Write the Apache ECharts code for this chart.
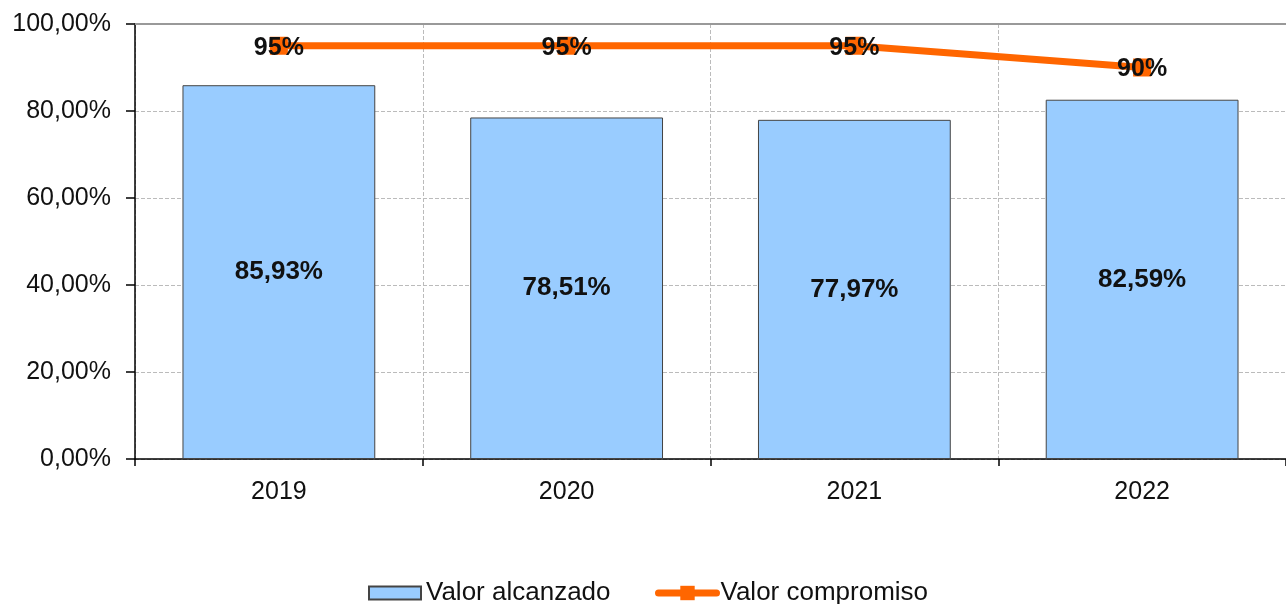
<!DOCTYPE html>
<html>
<head>
<meta charset="utf-8">
<script src="https://cdn.jsdelivr.net/npm/echarts@6/dist/echarts.min.js"></script>
<style>
html,body{margin:0;padding:0;background:#fff;}
#chart{width:1286px;height:604px;}
</style>
</head>
<body>
<div id="chart"></div>
<script>
var categories = ['2019', '2020', '2021', '2022'];
var valorAlcanzado = [85.93, 78.51, 77.97, 82.59];
var valorCompromiso = [95, 95, 95, 90];
var yTicks = [0, 20, 40, 60, 80, 100];

var FONT = '"Liberation Sans", Arial, sans-serif';
function fmtNum(v) { return v.toFixed(2).replace('.', ','); }

var chart = echarts.init(document.getElementById('chart'));
chart.setOption({
  animation: false,
  backgroundColor: '#fff',
  textStyle: { fontFamily: FONT },
  grid: { left: 135, right: -1, top: 24, bottom: 145, containLabel: false },
  legend: [{
    top: 580,
    left: 368,
    padding: 0,
    itemGap: 0,
    itemWidth: 52,
    itemHeight: 13,
    textStyle: { fontFamily: FONT, fontSize: 26, color: '#111', padding: [0, 0, 0, 0] },
    data: [{ name: 'Valor alcanzado', icon: 'rect' }]
  }, {
    top: 580,
    left: 655,
    padding: 0,
    itemGap: 0,
    itemWidth: 58,
    itemHeight: 18,
    lineStyle: { width: 7, cap: 'round' },
    textStyle: { fontFamily: FONT, fontSize: 26, color: '#111', padding: [0, 0, 0, -1] },
    data: [{ name: 'Valor compromiso' }]
  }],
  xAxis: [{
    type: 'category',
    data: categories,
    boundaryGap: true,
    axisLine: { lineStyle: { color: '#000', width: 1.5 } },
    axisTick: { show: true, alignWithLabel: false, length: 7, lineStyle: { color: '#000', width: 1.5 } },
    axisLabel: { fontFamily: FONT, fontSize: 25, color: '#111', margin: 21 },
    splitLine: { show: true, lineStyle: { color: '#bbb', type: 'dashed', width: 1 } }
  }, {
    type: 'category',
    data: categories,
    position: 'top',
    axisLine: { show: true, lineStyle: { color: '#999', width: 2 } },
    axisTick: { show: false },
    axisLabel: { show: false },
    splitLine: { show: false }
  }],
  yAxis: {
    type: 'value',
    min: yTicks[0],
    max: yTicks[yTicks.length - 1],
    interval: 20,
    axisLine: { show: true, lineStyle: { color: '#000', width: 1.5 } },
    axisTick: { show: true, length: 9, lineStyle: { color: '#000', width: 1.5 } },
    axisLabel: { fontFamily: FONT, fontSize: 25, color: '#111', margin: 24, formatter: function (v) { return fmtNum(v) + '%'; } },
    splitLine: { show: true, lineStyle: { color: '#bbb', type: 'dashed', width: 1 } }
  },
  series: [{
    name: 'Valor alcanzado',
    type: 'bar',
    data: valorAlcanzado,
    barCategoryGap: '33%',
    itemStyle: { color: '#99CCFF', borderColor: '#444', borderWidth: 1 },
    label: {
      show: true, position: 'inside', fontFamily: FONT, fontSize: 26, fontWeight: 'bold', color: '#111',
      formatter: function (p) { return fmtNum(p.value) + '%'; }
    },
    z: 2
  }, {
    name: 'Valor compromiso',
    type: 'line',
    data: valorCompromiso,
    symbol: 'rect',
    symbolSize: 18,
    lineStyle: { color: '#FF6600', width: 7 },
    itemStyle: { color: '#FF6600' },
    label: {
      show: true, position: 'inside', fontFamily: FONT, fontSize: 25, fontWeight: 'bold', color: '#111',
      offset: [0, 2],
      formatter: function (p) { return p.value + '%'; }
    },
    z: 5
  }]
});
</script>
</body>
</html>
